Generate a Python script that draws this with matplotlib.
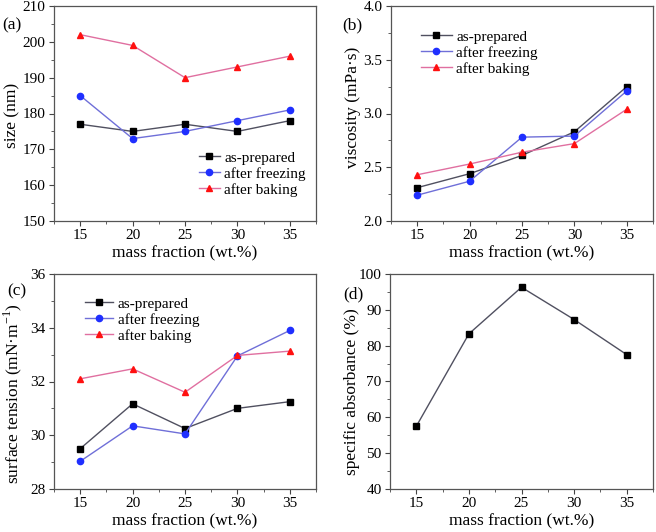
import matplotlib
matplotlib.use("Agg")
import matplotlib.pyplot as plt
from matplotlib.ticker import MultipleLocator, AutoMinorLocator

plt.rcParams["font.family"] = "Liberation Serif"
plt.rcParams["mathtext.fontset"] = "custom"
plt.rcParams["mathtext.rm"] = "Liberation Serif"

mass_fraction = [15, 20, 25, 30, 35]

size_prepared = [177, 175, 177, 175, 178]
size_freezing = [185, 173, 175, 178, 181]
size_baking = [202, 199, 190, 193, 196]

visc_prepared = [2.31, 2.44, 2.61, 2.83, 3.25]
visc_freezing = [2.24, 2.37, 2.78, 2.79, 3.21]
visc_baking = [2.43, 2.53, 2.64, 2.72, 3.04]

tension_prepared = [29.5, 31.17, 30.25, 31.0, 31.25]
tension_freezing = [29.03, 30.35, 30.05, 32.95, 33.9]
tension_baking = [32.1, 32.47, 31.6, 32.97, 33.13]

absorbance = [57.5, 83.3, 96.3, 87.3, 77.5]

series_labels = ["as-prepared", "after freezing", "after baking"]
styles = [
    dict(color="#505060", marker="s", mfc="black", mec="black"),
    dict(color="#6f6fd8", marker="o", mfc="#1f2fff", mec="#1f2fff"),
    dict(color="#e06fa0", marker="^", mfc="#ff1010", mec="#ff1010"),
]

W, H = 656, 532
fig = plt.figure(figsize=(W / 100, H / 100), dpi=100)


def make_ax(l, r, t, b):
    return fig.add_axes([l / W, 1 - b / H, (r - l) / W, (b - t) / H])


def style_ax(ax, ylim, ystep, ylabel, label_xy):
    ax.set_xlim(12.5, 37.5)
    ax.set_ylim(*ylim)
    ax.xaxis.set_major_locator(MultipleLocator(5))
    ax.xaxis.set_minor_locator(AutoMinorLocator(2))
    ax.yaxis.set_major_locator(MultipleLocator(ystep))
    ax.yaxis.set_minor_locator(AutoMinorLocator(2))
    ax.tick_params(which="both", direction="out", labelsize=11, colors="#444444",
                   labelcolor="black", pad=2.5)
    ax.tick_params(which="major", length=3.5)
    ax.tick_params(which="minor", length=2)
    for s in ax.spines.values():
        s.set_color("#555555")
        s.set_linewidth(0.9)
    ax.set_xlabel("mass fraction (wt.%)", fontsize=12.5, labelpad=2)
    ax.set_ylabel(ylabel, fontsize=12.5)
    ax.yaxis.set_label_coords(*label_xy)


def draw_series(ax, ys):
    for y, lab, st in zip(ys, series_labels, styles):
        ax.plot(mass_fraction, y, lw=1.0, ms=4.5, label=lab, **st)


def add_legend(ax, x, y, hl):
    ax.legend(loc="upper left", bbox_to_anchor=(x / W, 1 - y / H),
              bbox_transform=fig.transFigure, frameon=False, borderpad=0,
              borderaxespad=0, fontsize=11, handlelength=hl,
              handletextpad=0.3, labelspacing=0.15)


def add_tag(x, y, tag):
    fig.text(x / W, 1 - y / H, tag, fontsize=12.5, ha="left", va="center")


# (a)
ax1 = make_ax(54, 316, 6, 221)
draw_series(ax1, [size_prepared, size_freezing, size_baking])
style_ax(ax1, (150, 210), 10, "size (nm)", (-0.13, 0.493))
add_legend(ax1, 199, 151, 1.35)
add_tag(2, 25, "(a)")

# (b)
ax2 = make_ax(391, 653, 6, 221)
draw_series(ax2, [visc_prepared, visc_freezing, visc_baking])
style_ax(ax2, (2.0, 4.0), 0.5, "viscosity (mPa·s)", (-0.115, 0.53))
add_legend(ax2, 421, 30, 2.0)
add_tag(342, 25, "(b)")

# (c)
ax3 = make_ax(54, 316, 274, 489)
draw_series(ax3, [tension_prepared, tension_freezing, tension_baking])
style_ax(ax3, (28, 36), 2, "surface tension (mN·m$^{-1}$)", (-0.115, 0.442))
add_legend(ax3, 85, 297, 1.85)
add_tag(7, 291, "(c)")

# (d)
ax4 = make_ax(390, 653, 274, 489)
ax4.plot(mass_fraction, absorbance, lw=1.0, ms=4.5, **styles[0])
style_ax(ax4, (40, 100), 10, "specific absorbance (%)", (-0.114, 0.451))
add_tag(343, 294, "(d)")

fig.savefig("out.png", dpi=100)
